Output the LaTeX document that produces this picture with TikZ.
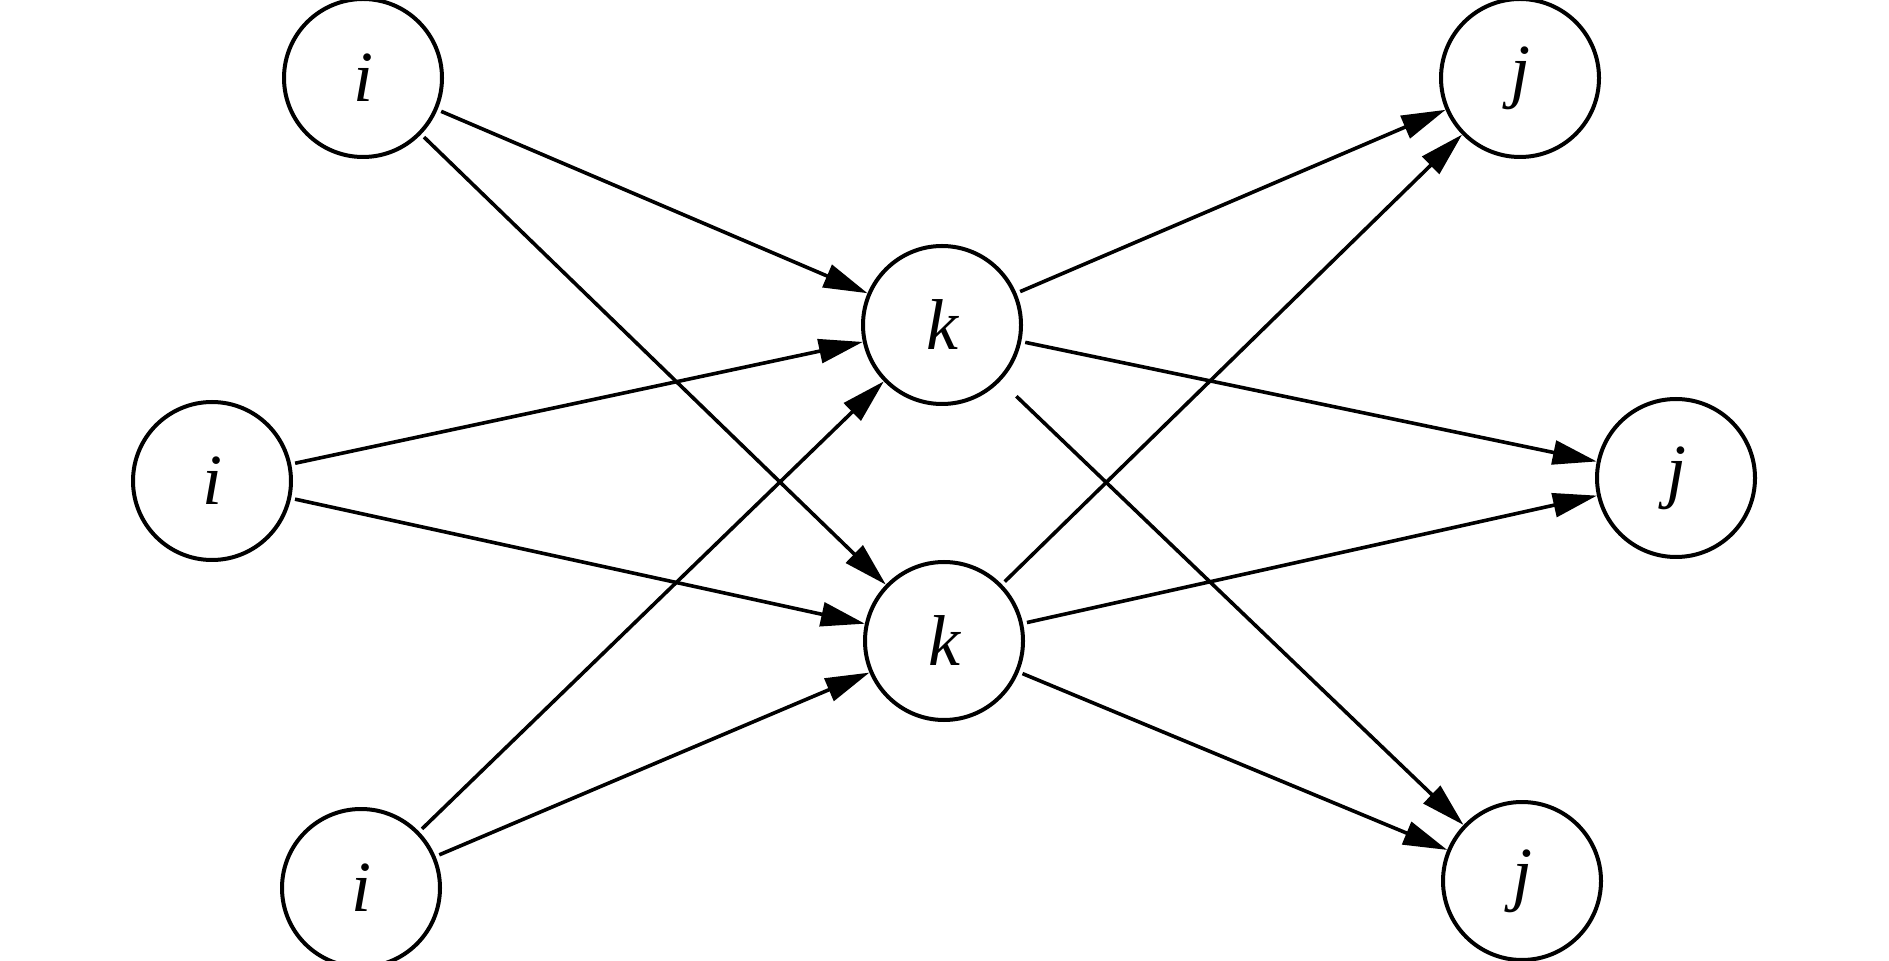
\documentclass[tikz,border=0pt]{standalone}
\usepackage{fontspec}
\setmainfont{Liberation Serif}
\usetikzlibrary{arrows.meta}
\begin{document}
\begin{tikzpicture}[x=0.5pt,y=-0.5pt,
  nd/.style={circle,draw,line width=2pt,minimum size=79pt,inner sep=0pt,font=\fontsize{36}{42}\selectfont\itshape},
  ar/.style={line width=1.8pt,-{Triangle[length=22pt,width=12pt]},shorten <=2pt}]
\useasboundingbox (0,0) rectangle (1889,961);
\node[nd] (i1) at (363,78) {i};
\node[nd] (i2) at (212,481) {i};
\node[nd] (i3) at (361,888) {i};
\node[nd] (k1) at (942,325) {k};
\node[nd] (k2) at (944,641) {k};
\node[nd] (j1) at (1520,78) {j};
\node[nd] (j2) at (1676,478) {j};
\node[nd] (j3) at (1522,881) {j};
\foreach \a in {i1,i2,i3}{\foreach \b in {k1,k2}{\draw[ar] (\a) -- (\b);}}
\draw[ar] (k1) -- (j1);
\draw[ar] (k1) -- (j2);
\draw[ar,shorten <=11pt] (k1) -- (j3);
\draw[ar] (k2) -- (j1);
\draw[ar] (k2) -- (j2);
\draw[ar] (k2) -- (j3);
\end{tikzpicture}
\end{document}
